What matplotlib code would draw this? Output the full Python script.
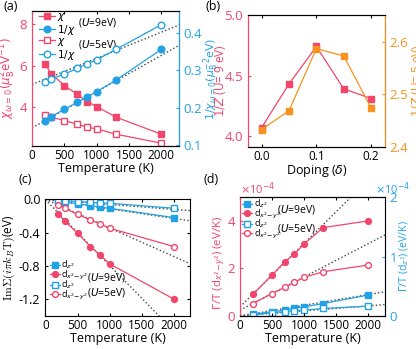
import numpy as np
import matplotlib
matplotlib.use("Agg")
import matplotlib.pyplot as plt

plt.rcParams['font.family'] = ['Open Sans', 'DejaVu Sans']
plt.rcParams['mathtext.fontset'] = 'dejavusans'
plt.rcParams['font.size'] = 8
plt.rcParams['xtick.direction'] = 'in'
plt.rcParams['ytick.direction'] = 'in'
plt.rcParams['xtick.major.size'] = 2.5
plt.rcParams['ytick.major.size'] = 2.5
plt.rcParams['axes.linewidth'] = 0.8

RED = '#f2456c'
BLUE = '#22a2e6'
ORANGE = '#f7921e'
DOT = '#444444'

# (a) static susceptibility
temp_a = [200, 300, 500, 700, 850, 1000, 1300, 2000]
chi_u9 = [6.08, 5.60, 5.04, 4.62, 4.27, 4.03, 3.52, 2.70]
chi_u5 = [3.63, 3.52, 3.36, 3.18, 3.04, 2.96, 2.70, 2.27]
inv_chi_u9 = [0.164, 0.176, 0.196, 0.214, 0.229, 0.243, 0.274, 0.356]
inv_chi_u5 = [0.269, 0.277, 0.290, 0.305, 0.318, 0.328, 0.356, 0.422]
fit_inv_u9 = (0.146, 9.7e-5)    # intercept, slope per K
fit_inv_u5 = (0.262, 7.0e-5)

# (b) 1/Z vs doping
doping = [0.0, 0.05, 0.1, 0.15, 0.2]
invz_u9 = [4.07, 4.43, 4.74, 4.39, 4.31]
invz_u5 = [2.433, 2.469, 2.587, 2.573, 2.474]

# (c) Im Sigma(i pi kB T)
temp_c = [200, 300, 500, 700, 850, 1000, 2000]
sig_z2_u9 = [-0.020, -0.028, -0.056, -0.076, -0.096, -0.108, -0.220]
sig_x2_u9 = [-0.176, -0.260, -0.408, -0.568, -0.668, -0.776, -1.200]
sig_z2_u5 = [-0.012, -0.016, -0.028, -0.036, -0.044, -0.048, -0.108]
sig_x2_u5 = [-0.068, -0.108, -0.180, -0.248, -0.296, -0.348, -0.568]
fit_sig = [(0.0, -1.15e-4), (-0.005, -7.9e-4), (0.0, -6.1e-5), (0.0, -3.44e-4)]

# (d) Gamma/T, units of 1e-4 eV/K
temp_d = [200, 500, 700, 850, 1000, 1300, 2000]
gam_x2_u9 = [0.90, 1.72, 2.28, 2.61, 3.03, 3.72, 4.00]
gam_x2_u5 = [0.52, 0.94, 1.20, 1.41, 1.62, 1.86, 2.14]
gam_z2_u9 = [0.028, 0.068, 0.096, 0.135, 0.152, 0.208, 0.350]
gam_z2_u5 = [0.011, 0.056, 0.068, 0.090, 0.096, 0.124, 0.163]
fit_gam_x2 = [(0.38, 2.67e-3), (0.24, 1.40e-3)]
fit_gam_z2 = [(0.0, 1.79e-4), (0.0, 8.4e-5)]

ms = 4.2
lw = 0.9
tfit = np.array([0, 2300])
leg_kw = dict(frameon=False, fontsize=6.5, handletextpad=0.2, borderpad=0,
              borderaxespad=0)

fig = plt.figure(figsize=(4.16, 3.49), dpi=100)

# ---------------- (a)
ax = fig.add_axes([0.077, 0.582, 0.353, 0.386])
axr = ax.twinx()
l1, = ax.plot(temp_a, chi_u9, 's-', color=RED, ms=ms, lw=lw)
l3, = ax.plot(temp_a, chi_u5, 's-', color=RED, ms=ms, lw=lw, mfc='white')
for fit in (fit_inv_u9, fit_inv_u5):
    axr.plot(tfit, fit[0] + fit[1] * tfit, ':', color=DOT, lw=1.0)
l2, = axr.plot(temp_a, inv_chi_u9, 'o-', color=BLUE, ms=ms + 0.6, lw=lw)
l4, = axr.plot(temp_a, inv_chi_u5, 'o-', color=BLUE, ms=ms + 0.6, lw=lw,
               mfc='white')
ax.set_xlim(0, 2270)
ax.set_ylim(2.14, 8.62)
axr.set_ylim(0.098, 0.458)
ax.set_xticks([0, 500, 1000, 1500, 2000])
ax.set_yticks([4, 6, 8])
axr.set_yticks([0.1, 0.2, 0.3, 0.4])
ax.tick_params(axis='y', colors=RED, labelsize=9.5)
axr.tick_params(axis='y', colors=BLUE, labelsize=9.5)
ax.tick_params(axis='x', top=True, labelsize=8.5, pad=2)
ax.spines['left'].set_color(RED)
axr.spines['left'].set_color(RED)
axr.spines['right'].set_color(BLUE)
ax.set_xlabel('Temperature (K)', fontsize=9, labelpad=0)
ax.set_ylabel(r'$\chi_{\omega=0}(\mu_\mathrm{B}^2\mathrm{eV}^{-1})$',
              color=RED, fontsize=8.5, labelpad=1)
axr.set_ylabel(r'$1/\chi_{\omega=0}(\mu_\mathrm{B}^{-2}\mathrm{eV})$',
               color=BLUE, fontsize=8)
axr.yaxis.set_label_coords(1.15, 0.5)
leg = ax.legend([l1, l2, l3, l4], [r'$\chi$', r'$1/\chi$', r'$\chi$', r'$1/\chi$'],
                loc='upper left', bbox_to_anchor=(0.045, 1.0),
                handlelength=1.6, labelspacing=-0.05,
                **{**leg_kw, 'fontsize': 7.5})
ax.text(0.31, 0.918, r'($U$=9eV)', transform=ax.transAxes, fontsize=7.5,
        va='center')
ax.text(0.31, 0.755, r'($U$=5eV)', transform=ax.transAxes, fontsize=7.5,
        va='center')
fig.text(0.008, 0.972, '(a)', fontsize=9)

# ---------------- (b)
ax = fig.add_axes([0.596, 0.579, 0.329, 0.378])
axr = ax.twinx()
ax.plot(doping, invz_u9, 's-', color=RED, ms=ms + 0.5, lw=lw)
axr.plot(doping, invz_u5, 's-', color=ORANGE, ms=ms + 0.5, lw=lw)
ax.set_xlim(-0.025, 0.225)
ax.set_ylim(3.91, 5.0)
axr.set_ylim(2.4, 2.651)
ax.set_xticks([0.0, 0.1, 0.2])
ax.set_yticks([4.0, 4.5, 5.0])
axr.set_yticks([2.4, 2.5, 2.6])
ax.tick_params(axis='y', colors=RED, labelsize=9.5)
axr.tick_params(axis='y', colors=ORANGE, labelsize=9.5)
ax.tick_params(axis='x', top=True, labelsize=8.5, pad=2)
ax.spines['left'].set_color(RED)
axr.spines['left'].set_color(RED)
axr.spines['right'].set_color(ORANGE)
ax.set_xlabel(r'Doping ($\delta$)', fontsize=9, labelpad=0)
ax.set_ylabel(r'$1/Z$ (U= 9 eV)', color=RED, fontsize=8.5)
ax.yaxis.set_label_coords(-0.146, 0.5)
axr.set_ylabel(r'$1/Z$ (U= 5 eV)', color=ORANGE, fontsize=8.5, labelpad=1)
fig.text(0.493, 0.972, '(b)', fontsize=9)

# ---------------- (c)
ax = fig.add_axes([0.109, 0.095, 0.348, 0.334])
for fit in fit_sig:
    ax.plot(tfit, fit[0] + fit[1] * tfit, ':', color=DOT, lw=1.0)
c1, = ax.plot(temp_c, sig_z2_u9, 's-', color=BLUE, ms=ms - 0.3, lw=lw)
c2, = ax.plot(temp_c, sig_x2_u9, 'o-', color=RED, ms=ms, lw=lw)
c3, = ax.plot(temp_c, sig_z2_u5, 's-', color=BLUE, ms=ms - 0.3, lw=lw,
              mfc='white')
c4, = ax.plot(temp_c, sig_x2_u5, 'o-', color=RED, ms=ms, lw=lw, mfc='white')
ax.set_xlim(0, 2250)
ax.set_ylim(-1.4, 0.0)
ax.set_xticks([0, 500, 1000, 1500, 2000])
ax.set_yticks([-1.2, -0.8, -0.4, 0.0])
ax.set_yticklabels(['-1.2', '-0.8', '-0.4', '0.0'])
ax.tick_params(axis='both', top=True, right=True, labelsize=9)
ax.tick_params(axis='x', labelsize=8.5, pad=2)
ax.set_xlabel('Temperature (K)', fontsize=9, labelpad=0)
ax.set_ylabel(r'$\mathrm{Im}\Sigma(i\pi k_B\mathrm{T})$(eV)', fontsize=8.5,
              labelpad=1, math_fontfamily='cm')
lab = [r'd$_{z^2}$', r'd$_{x^2\!-\!y^2}$', r'd$_{z^2}$', r'd$_{x^2\!-\!y^2}$']
ax.legend([c1, c2, c3, c4], lab, loc='lower left',
          bbox_to_anchor=(0.03, 0.12), handlelength=1.1,
          labelspacing=-0.3, **leg_kw)
ax.text(0.285, 0.33, r'($U$=9eV)', transform=ax.transAxes, fontsize=7.5,
        va='center')
ax.text(0.285, 0.20, r'($U$=5eV)', transform=ax.transAxes, fontsize=7.5,
        va='center')
fig.text(0.045, 0.477, '(c)', fontsize=9)

# ---------------- (d)
ax = fig.add_axes([0.577, 0.095, 0.348, 0.34])
axr = ax.twinx()
for fit in fit_gam_x2:
    ax.plot(tfit, fit[0] + fit[1] * tfit, ':', color=DOT, lw=1.0)
for fit in fit_gam_z2:
    axr.plot(tfit, fit[0] + fit[1] * tfit, ':', color=DOT, lw=1.0)
d2, = ax.plot(temp_d, gam_x2_u9, 'o-', color=RED, ms=ms, lw=lw)
d4, = ax.plot(temp_d, gam_x2_u5, 'o-', color=RED, ms=ms, lw=lw, mfc='white')
d1, = axr.plot(temp_d, gam_z2_u9, 's-', color=BLUE, ms=ms - 0.3, lw=lw)
d3, = axr.plot(temp_d, gam_z2_u5, 's-', color=BLUE, ms=ms - 0.3, lw=lw,
               mfc='white')
ax.set_xlim(0, 2260)
ax.set_ylim(0, 5)
axr.set_ylim(0, 2)
ax.set_xticks([0, 500, 1000, 1500, 2000])
ax.set_yticks([0, 2, 4])
axr.set_yticks([0, 1, 2])
ax.tick_params(axis='y', colors=RED, labelsize=9.5)
axr.tick_params(axis='y', colors=BLUE, labelsize=9.5)
ax.tick_params(axis='x', top=True, labelsize=8.5, pad=2)
ax.spines['left'].set_color(RED)
axr.spines['left'].set_color(RED)
axr.spines['right'].set_color(BLUE)
ax.set_xlabel('Temperature (K)', fontsize=9, labelpad=0)
ax.set_ylabel(r'$\Gamma$/T (d$_{x^2\!-\!y^2}$) (eV/K)', color=RED,
              fontsize=8.2)
ax.yaxis.set_label_coords(-0.085, 0.45)
axr.set_ylabel(r'$\Gamma$/T (d$_{z^2}$) (eV/K)', color=BLUE, fontsize=7.6)
axr.yaxis.set_label_coords(1.09, 0.5)
ax.text(0.0, 1.03, r'$\times$10$^{-4}$', transform=ax.transAxes,
        color=RED, fontsize=8)
ax.text(0.93, 1.03, r'$\times$10$^{-4}$', transform=ax.transAxes,
        color=BLUE, fontsize=8)
leg = ax.legend([d1, d2, d3, d4], lab, loc='upper left',
                bbox_to_anchor=(0.014, 0.995), handlelength=1.1,
                labelspacing=-0.3, **leg_kw)
leg.set_zorder(5)
ax.set_zorder(axr.get_zorder() + 1)
ax.patch.set_visible(False)
ax.text(0.255, 0.895, r'($U$=9eV)', transform=ax.transAxes, fontsize=7.5,
        va='center')
ax.text(0.255, 0.735, r'($U$=5eV)', transform=ax.transAxes, fontsize=7.5,
        va='center')
fig.text(0.49, 0.477, '(d)', fontsize=9)

fig.savefig('out.png', dpi=100)
